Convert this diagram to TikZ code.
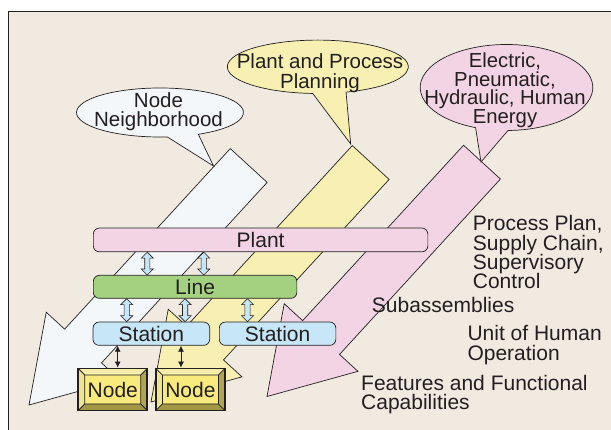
\documentclass[tikz,border=0pt]{standalone}
\usepackage{fontspec}
\setmainfont{Liberation Sans}
\usetikzlibrary{calc,arrows.meta}

\definecolor{ink}{HTML}{231F20}
\definecolor{paper}{HTML}{F0EAE1}
\definecolor{mist}{HTML}{F4F7FA}
\definecolor{straw}{HTML}{F7F0B2}
\definecolor{rose}{HTML}{F3D4E4}
\definecolor{leaf}{HTML}{A3D17F}
\definecolor{sky}{HTML}{C7E6F7}
\definecolor{face}{HTML}{F8EA7C}
\definecolor{bevtop}{HTML}{F5EEAA}
\definecolor{bevleft}{HTML}{EEE38E}
\definecolor{bevright}{HTML}{B0A552}
\definecolor{bevbot}{HTML}{A39846}

% text size with a fixed line spacing
\newcommand\txt[2]{\fontsize{#1}{#2}\selectfont\lineskiplimit=-100pt\relax}

\tikzset{
  fat/.style={draw=ink, line width=0.7pt, line join=miter},
  callout/.style={draw=ink, line width=0.7pt, line join=miter},
  lbl/.style={text=ink, inner sep=0pt, font=\txt{21}{19.3}},
  bar/.style={draw=ink, line width=0.7pt, rounded corners=6pt, inner sep=0pt,
    text=ink, font=\txt{21}{24}, anchor=north west},
  hollow/.style={draw=ink, line width=0.6pt, fill=sky,
    to path={let \p1=(\tikztostart), \p2=(\tikztotarget) in
      (\x1,\y1) -- (\x1+6pt,\y1-6pt) -- (\x1+2.6pt,\y1-6pt) -- (\x1+2.6pt,\y2+6pt)
      -- (\x1+6pt,\y2+6pt) -- (\x1,\y2) -- (\x1-6pt,\y2+6pt) -- (\x1-2.6pt,\y2+6pt)
      -- (\x1-2.6pt,\y1-6pt) -- (\x1-6pt,\y1-6pt) -- cycle}},
  link/.style={draw=ink, line width=0.8pt, {Latex[length=6pt,width=6pt]}-{Latex[length=6pt,width=6pt]}},
  nodebox/.style={draw=ink, line width=1.8pt, fill=face, minimum width=69pt,
    minimum height=42pt, inner sep=0pt, text=ink, font=\txt{21}{24},
    path picture={
      \fill[bevtop] let \p1=(path picture bounding box.south west), \p2=(path picture bounding box.north east) in
        (\x1,\y2) -- (\x2,\y2) -- (\x2-6.5pt,\y2-6.5pt) -- (\x1+6.5pt,\y2-6.5pt) -- cycle;
      \fill[bevleft] let \p1=(path picture bounding box.south west), \p2=(path picture bounding box.north east) in
        (\x1,\y2) -- (\x1+6.5pt,\y2-6.5pt) -- (\x1+6.5pt,\y1+6.5pt) -- (\x1,\y1) -- cycle;
      \fill[bevright] let \p1=(path picture bounding box.south west), \p2=(path picture bounding box.north east) in
        (\x2,\y2) -- (\x2-6.5pt,\y2-6.5pt) -- (\x2-6.5pt,\y1+6.5pt) -- (\x2,\y1) -- cycle;
      \fill[bevbot] let \p1=(path picture bounding box.south west), \p2=(path picture bounding box.north east) in
        (\x1,\y1) -- (\x1+6.5pt,\y1+6.5pt) -- (\x2-6.5pt,\y1+6.5pt) -- (\x2,\y1) -- cycle;
      \draw[ink, line width=0.8pt] let \p1=(path picture bounding box.south west), \p2=(path picture bounding box.north east) in
        (\x1+6.5pt,\y1+6.5pt) rectangle (\x2-6.5pt,\y2-6.5pt)
        (\x1,\y1) -- (\x1+6.5pt,\y1+6.5pt) (\x2,\y1) -- (\x2-6.5pt,\y1+6.5pt)
        (\x1,\y2) -- (\x1+6.5pt,\y2-6.5pt) (\x2,\y2) -- (\x2-6.5pt,\y2-6.5pt);
    }},
}

\begin{document}
\begin{tikzpicture}[x=1pt, y=-1pt]
\useasboundingbox (0,0) rectangle (611,430);

% page and framed panel
\fill[white] (0,0) rectangle (611,430);
\fill[paper] (8.6,11.5) rectangle (611,430);
\draw[ink, line width=0.9pt] (8.6,430) -- (8.6,11.5) -- (611,11.5);

% three broad arrows pointing down-left
\draw[fat, fill=mist] (29,405) -- (119.93,379.84) -- (101.51,362.94) -- (267.13,182.4)
  -- (230.27,148.6) -- (64.65,329.14) -- (46.23,312.24) -- cycle;
\draw[fat, fill=straw] (151,402) -- (241.93,376.84) -- (223.51,359.94) -- (389.13,179.4)
  -- (352.27,145.6) -- (186.65,326.14) -- (168.23,309.24) -- cycle;
\draw[fat, fill=rose] (267,396.5) -- (357.93,371.34) -- (339.51,354.44) -- (500.4,179.03)
  -- (463.54,145.23) -- (302.65,320.64) -- (284.23,303.74) -- cycle;

% speech bubbles feeding the arrows
\draw[callout, fill=mist] (160,112.5) ++(85:83.5 and 24.5)
  arc[start angle=85, end angle=422.7, x radius=83.5, y radius=24.5] -- (213.5,166) -- cycle;
\node[lbl, font=\txt{20.5}{18.5}, align=center, anchor=north] (nbhd) at (158.5,92.5) {Node\\Neighborhood};

\draw[callout, fill=straw] (317.8,66.8) ++(93.2:90.5 and 26.7)
  arc[start angle=93.2, end angle=431.8, x radius=90.5, y radius=26.7] -- (350.7,144) -- cycle;
\node[lbl, font=\txt{20.5}{20}, align=center, anchor=north] (ppp) at (320,53.4) {Plant and Process\\Planning};

\draw[callout, fill=rose] (506.5,87.5) ++(111:86.3 and 43)
  arc[start angle=111, end angle=449, x radius=86.3, y radius=43] -- (481,162) -- cycle;
\node[lbl, font=\txt{20.3}{18.5}, align=center, anchor=north] (energy) at (505,52.6)
  {Electric,\\Pneumatic,\\Hydraulic, Human\\Energy};

% hierarchy bars
\node[bar, fill=rose, minimum width=334.5pt, minimum height=23.8pt] (plant) at (93,227.7) {Plant};
\node[bar, fill=leaf, minimum width=203.5pt, minimum height=23pt] (line) at (93,275) {Line};
\node[bar, fill=sky, minimum width=116.6pt, minimum height=23.3pt] (st1) at (92.7,321.7) {Station};
\node[bar, fill=sky, minimum width=116.5pt, minimum height=23.3pt] (st2) at (219,321.7) {Station};

% hollow two-way links between levels
\draw[hollow] ([xshift=54.3pt]plant.south west) to ([xshift=54.3pt]line.north west);
\draw[hollow] ([xshift=110.7pt]plant.south west) to ([xshift=110.7pt]line.north west);
\draw[hollow] ([xshift=33.7pt]line.south west) to ([xshift=34pt]st1.north west);
\draw[hollow] ([xshift=92.1pt]line.south west) to ([xshift=92.4pt]st1.north west);
\draw[hollow] ([xshift=154.5pt]line.south west) to ([xshift=28.5pt]st2.north west);

% beveled node buttons
\node[nodebox] (nodeA) at (112.8,389.5) {Node};
\node[nodebox] (nodeB) at (190.4,389.5) {Node};

\draw[link] ([xshift=25pt]st1.south west) -- ([xshift=4.9pt]nodeA.north);
\draw[link] ([xshift=88.3pt]st1.south west) -- ([xshift=-9.4pt]nodeB.north);

% level descriptions
\node[lbl, align=left, anchor=north west] (ctl) at (472.7,215.4)
  {Process Plan,\\Supply Chain,\\Supervisory\\Control};
\node[lbl, anchor=north west] (sub) at (371.7,297.2) {Subassemblies};
\node[lbl, font=\txt{21}{20}, align=left, anchor=north west] (uho) at (467.3,325.5) {Unit of Human\\Operation};
\node[lbl, align=left, anchor=north west] (ffc) at (361,374.9) {Features and Functional\\Capabilities};
\end{tikzpicture}
\end{document}
